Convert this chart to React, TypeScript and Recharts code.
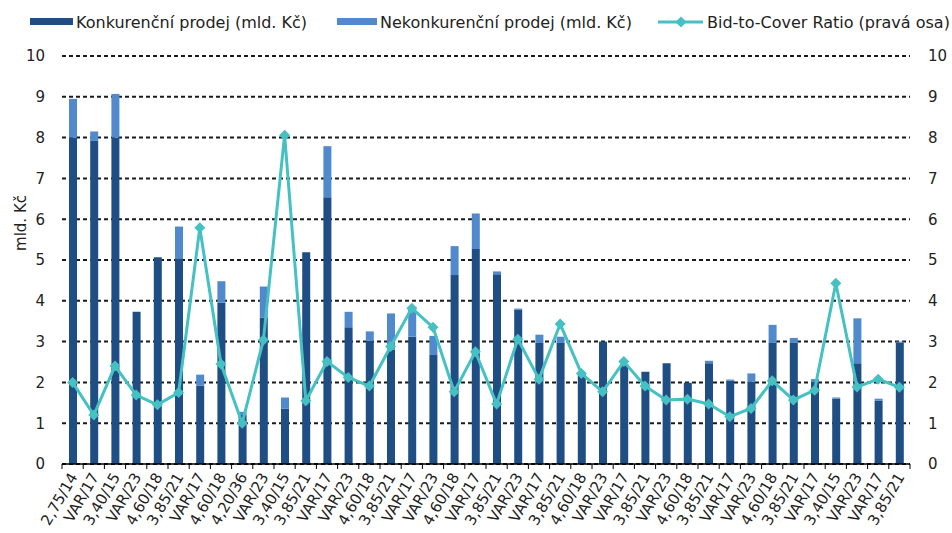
import { Bar, CartesianGrid, ComposedChart, Line, XAxis, YAxis } from "recharts";

const W = 952;
const H = 533;
const PLOT_LEFT = 62;
const PLOT_RIGHT = 910;
const PLOT_TOP = 56;
const PLOT_BOTTOM = 464;

const FONT = "'DejaVu Sans', Verdana, sans-serif";
const DARK = "#1F4E84";
const LIGHT = "#5089CC";
const TEAL = "#45C1C3";

// emise (kupon/splatnost)
const issues = [
  "2,75/14", "VAR/17", "3,40/15", "VAR/23", "4,60/18", "3,85/21", "VAR/17", "4,60/18",
  "4,20/36", "VAR/23", "3,40/15", "3,85/21", "VAR/17", "VAR/23", "4,60/18", "3,85/21",
  "VAR/17", "VAR/23", "4,60/18", "VAR/17", "3,85/21", "VAR/23", "VAR/17", "3,85/21",
  "4,60/18", "VAR/23", "VAR/17", "3,85/21", "VAR/23", "4,60/18", "3,85/21", "VAR/17",
  "VAR/23", "4,60/18", "3,85/21", "VAR/17", "3,40/15", "VAR/23", "VAR/17", "3,85/21",
];

// mld. Kč
const konkurencni = [
  8.0, 7.92, 8.0, 3.73, 5.07, 5.04, 1.92, 3.96, 1.2, 3.59, 1.36, 5.19, 6.54, 3.35, 3.02, 2.8,
  3.12, 2.67, 4.63, 5.27, 4.65, 3.78, 2.97, 2.97, 2.2, 3.0, 2.45, 2.26, 2.47, 1.99, 2.47, 2.04,
  2.02, 2.97, 2.97, 2.0, 1.6, 2.47, 1.55, 2.98,
];
const nekonkurencni = [
  0.95, 0.23, 1.07, 0, 0, 0.78, 0.27, 0.52, 0.08, 0.76, 0.27, 0, 1.25, 0.38, 0.23, 0.89,
  0.73, 0.47, 0.71, 0.87, 0.07, 0.03, 0.2, 0.15, 0, 0, 0, 0, 0, 0, 0.06, 0.03,
  0.2, 0.44, 0.12, 0.08, 0.03, 1.1, 0.05, 0.02,
];
// pravá osa
const bidToCover = [
  2.0, 1.2, 2.4, 1.69, 1.45, 1.75, 5.79, 2.45, 1.0, 3.04, 8.06, 1.55, 2.51, 2.12, 1.91, 2.88,
  3.82, 3.35, 1.77, 2.75, 1.47, 3.06, 2.08, 3.43, 2.22, 1.77, 2.51, 1.91, 1.57, 1.59, 1.47, 1.16,
  1.36, 2.04, 1.57, 1.81, 4.43, 1.89, 2.08, 1.88,
];

const yTicks = [0, 1, 2, 3, 4, 5, 6, 7, 8, 9, 10];

const rows = issues.map((label, i) => ({
  label,
  konk: konkurencni[i],
  nekonk: nekonkurencni[i],
  btc: bidToCover[i],
}));

const STEP = (PLOT_RIGHT - PLOT_LEFT) / issues.length;

function CategoryTick(props: any) {
  const { x, payload, index } = props;
  const half = STEP / 2;
  return (
    <g>
      <line x1={x - half} x2={x - half} y1={PLOT_BOTTOM} y2={PLOT_BOTTOM + 5} stroke="#000" />
      {index === issues.length - 1 && (
        <line x1={x + half} x2={x + half} y1={PLOT_BOTTOM} y2={PLOT_BOTTOM + 5} stroke="#000" />
      )}
      <text
        transform={`translate(${x + 1},${PLOT_BOTTOM + 10}) rotate(-60)`}
        textAnchor="end"
        dy="0.35em"
        fontSize={15}
        fontFamily={FONT}
        fill="#222"
      >
        {payload.value}
      </text>
    </g>
  );
}

function Diamond(props: any) {
  const { cx, cy } = props;
  if (cx == null || cy == null) return null;
  const r = 5.5;
  return <path d={`M${cx},${cy - r}L${cx + r},${cy}L${cx},${cy + r}L${cx - r},${cy}Z`} fill={TEAL} />;
}

function ChartLegend() {
  const ty = 22;
  return (
    <svg width={W} height={40} style={{ position: "absolute", left: 0, top: 0 }}>
      <g fontFamily={FONT} fontSize={16} fill="#222">
        <rect x={30} y={18} width={43} height={7} fill={DARK} />
        <text x={76} y={ty} dy="0.35em">Konkurenční prodej (mld. Kč)</text>
        <rect x={337} y={18} width={40} height={7} fill={LIGHT} />
        <text x={380} y={ty} dy="0.35em">Nekonkurenční prodej (mld. Kč)</text>
        <line x1={658} x2={703} y1={ty} y2={ty} stroke={TEAL} strokeWidth={3} />
        <Diamond cx={681} cy={ty} />
        <text x={707} y={ty} dy="0.35em">Bid-to-Cover Ratio (pravá osa)</text>
      </g>
    </svg>
  );
}

export default function App() {
  return (
    <div style={{ position: "absolute", left: 0, top: 0, width: W, height: H, background: "#fff" }}>
      <ComposedChart
        width={W}
        height={H}
        data={rows}
        margin={{ top: PLOT_TOP, right: 0, bottom: 0, left: 0 }}
        barCategoryGap={0}
      >
        <CartesianGrid
          vertical={false}
          stroke="#1a1a1a"
          strokeWidth={2}
          strokeDasharray="4 3"
        />
        <XAxis
          dataKey="label"
          interval={0}
          height={H - PLOT_BOTTOM}
          axisLine={{ stroke: "#000", strokeWidth: 1.5 }}
          tickLine={false}
          tick={<CategoryTick />}
        />
        <YAxis
          width={PLOT_LEFT}
          domain={[0, 10]}
          ticks={yTicks}
          interval={0}
          axisLine={false}
          tickLine={false}
          tickSize={0}
          tickMargin={17}
          tick={{ fill: "#222", fontSize: 15, fontFamily: FONT }}
          label={{
            content: (p: any) => {
              const vb = p.viewBox;
              const lx = vb.x + 21;
              const ly = vb.y + vb.height / 2 - 37;
              return (
                <text
                  x={lx}
                  y={ly}
                  transform={`rotate(-90 ${lx} ${ly})`}
                  textAnchor="middle"
                  dy="0.35em"
                  fontSize={15}
                  fontFamily={FONT}
                  fill="#222"
                >
                  mld. Kč
                </text>
              );
            },
          }}
        />
        <YAxis
          yAxisId="right"
          orientation="right"
          width={W - PLOT_RIGHT}
          domain={[0, 10]}
          ticks={yTicks}
          interval={0}
          axisLine={false}
          tickLine={false}
          tickSize={0}
          tickMargin={18}
          tick={{ fill: "#222", fontSize: 15, fontFamily: FONT }}
        />
        <Bar dataKey="konk" stackId="a" fill={DARK} barSize={8} isAnimationActive={false} />
        <Bar dataKey="nekonk" stackId="a" fill={LIGHT} barSize={8} isAnimationActive={false} />
        <Line
          yAxisId="right"
          dataKey="btc"
          stroke={TEAL}
          strokeWidth={3}
          dot={<Diamond />}
          activeDot={false}
          isAnimationActive={false}
        />
      </ComposedChart>
      <ChartLegend />
    </div>
  );
}
